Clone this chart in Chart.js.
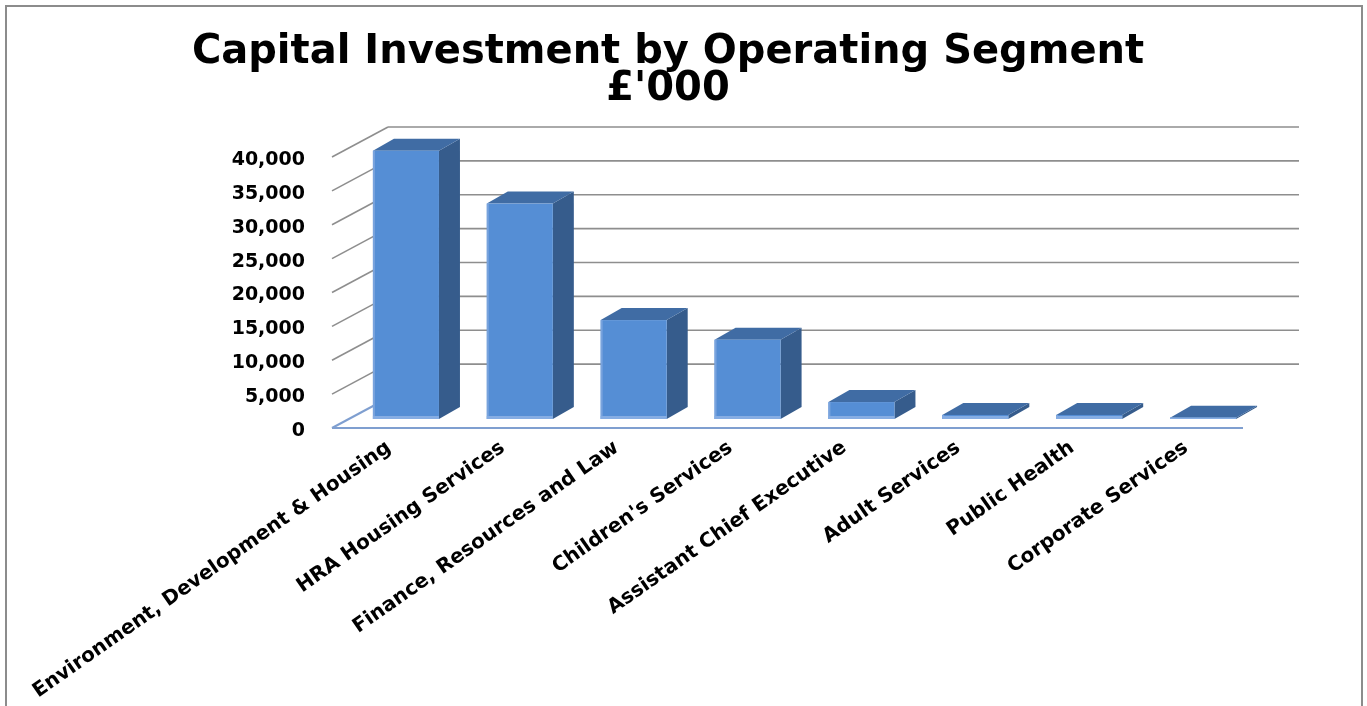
<!DOCTYPE html>
<html>
<head>
<meta charset="utf-8">
<script src="https://cdn.jsdelivr.net/npm/chart.js@4.4.1/dist/chart.umd.min.js"></script>
<style>
  html, body { margin: 0; padding: 0; background: #ffffff; }
  #wrap { width: 1367px; height: 706px; position: relative; overflow: hidden; }
</style>
</head>
<body>
<div id="wrap"><canvas id="c" width="1367" height="706"></canvas></div>
<script>
// ---- data ----
const categories = [
  'Environment, Development & Housing',
  'HRA Housing Services',
  'Finance, Resources and Law',
  "Children's Services",
  'Assistant Chief Executive',
  'Adult Services',
  'Public Health',
  'Corporate Services'
];
const capitalInvestment = [39600, 31800, 14600, 11700, 2500, 600, 600, 200];
const titleLines = ['Capital Investment by Operating Segment', "£'000"];
const yMin = 0;
const yMax = 40000;
const yStep = 5000;

// ---- 3D geometry (pixel offsets) ----
const WALL_DX = 56, WALL_DY = -30;   // depth of side wall / floor
const BAR_DX = 17, BAR_DY = -9;      // bar front face position inside depth
const BOX_DX = 21, BOX_DY = -12;     // bar depth

const FONT = "'DejaVu Sans', 'Liberation Sans', Arial, sans-serif";

const threeD = {
  id: 'threeD',
  beforeDraw(chart) {
    const ctx = chart.ctx;
    ctx.save();
    ctx.fillStyle = '#ffffff';
    ctx.fillRect(0, 0, chart.width, chart.height);
    ctx.strokeStyle = '#8c8c8c';
    ctx.lineWidth = 2;
    ctx.strokeRect(6, 6, 1356, 760);
    ctx.restore();
  },
  beforeDatasetsDraw(chart) {
    const { ctx, chartArea: a, scales: { y } } = chart;
    ctx.save();
    y.ticks.forEach(t => {
      const py = y.getPixelForValue(t.value);
      const isZero = t.value === 0;
      ctx.strokeStyle = isZero ? '#7f9fd0' : '#8e8e8e';
      ctx.lineWidth = isZero ? 2 : 1.6;
      // side wall diagonal
      ctx.beginPath();
      ctx.moveTo(a.left, py);
      ctx.lineTo(a.left + WALL_DX, py + WALL_DY);
      ctx.stroke();
      // back wall gridline
      if (!isZero) {
        ctx.beginPath();
        ctx.moveTo(a.left + WALL_DX, py + WALL_DY);
        ctx.lineTo(a.right + WALL_DX, py + WALL_DY);
        ctx.stroke();
      }
    });
    // floor front edge
    const p0 = y.getPixelForValue(0);
    ctx.strokeStyle = '#7f9fd0';
    ctx.lineWidth = 2;
    ctx.beginPath();
    ctx.moveTo(a.left, p0);
    ctx.lineTo(a.right, p0);
    ctx.stroke();
    ctx.restore();
  },
  afterDatasetsDraw(chart) {
    const ctx = chart.ctx;
    const meta = chart.getDatasetMeta(0);
    ctx.save();
    meta.data.forEach(el => {
      const p = el.getProps(['x', 'y', 'base', 'width'], true);
      const l = p.x + BAR_DX - p.width / 2;
      const r = p.x + BAR_DX + p.width / 2;
      const top = p.y + BAR_DY;
      const bot = p.base + BAR_DY;
      // side face
      ctx.fillStyle = '#365c8c';
      ctx.beginPath();
      ctx.moveTo(r, top);
      ctx.lineTo(r + BOX_DX, top + BOX_DY);
      ctx.lineTo(r + BOX_DX, bot + BOX_DY);
      ctx.lineTo(r, bot);
      ctx.closePath();
      ctx.fill();
      // top face
      ctx.fillStyle = '#406ca4';
      ctx.beginPath();
      ctx.moveTo(l, top);
      ctx.lineTo(l + BOX_DX, top + BOX_DY);
      ctx.lineTo(r + BOX_DX, top + BOX_DY);
      ctx.lineTo(r, top);
      ctx.closePath();
      ctx.fill();
      // front face
      ctx.fillStyle = '#558ed5';
      ctx.fillRect(l, top, r - l, bot - top);
      // light left edge
      ctx.fillStyle = '#79a3dd';
      ctx.fillRect(l, top, 2, bot - top);
      // light bottom strip
      const sh = Math.min(3, bot - top);
      ctx.fillStyle = '#86ade3';
      ctx.fillRect(l, bot - sh, r - l, sh);
    });
    ctx.restore();
  }
};

new Chart(document.getElementById('c'), {
  type: 'bar',
  data: {
    labels: categories,
    datasets: [{
      label: "Capital Investment £'000",
      data: capitalInvestment,
      backgroundColor: 'rgba(0,0,0,0)',
      borderWidth: 0,
      barPercentage: 0.58,
      categoryPercentage: 1.0
    }]
  },
  options: {
    responsive: false,
    animation: false,
    devicePixelRatio: 1,
    layout: { padding: { left: 6, right: 37, top: 6, bottom: 0 } },
    plugins: {
      legend: { display: false },
      tooltip: { enabled: false },
      title: {
        display: true,
        text: titleLines,
        color: '#000000',
        font: { family: FONT, weight: 'bold', size: 40, lineHeight: 0.925 },
        padding: { top: 28, bottom: 49 }
      }
    },
    scales: {
      x: {
        grid: { display: false, drawTicks: false },
        border: { display: false },
        ticks: {
          color: '#000000',
          font: { family: FONT, weight: 'bold', size: 20 },
          minRotation: 35,
          maxRotation: 35,
          autoSkip: false,
          padding: 8
        },
        afterFit(s) { s.height = 278; s.paddingLeft = 0; s.paddingRight = 0; }
      },
      y: {
        min: yMin,
        max: yMax,
        grid: { display: false, drawTicks: false },
        border: { display: false },
        ticks: {
          stepSize: yStep,
          color: '#000000',
          font: { family: FONT, weight: 'bold', size: 19 },
          padding: 27,
          labelOffset: 3,
          callback: v => Number(v).toLocaleString('en-US')
        },
        afterFit(s) { s.width = 326; }
      },
      y2: {
        position: 'right',
        display: true,
        grid: { display: false, drawTicks: false },
        border: { display: false },
        ticks: { display: false },
        afterFit(s) { s.width = 87; }
      }
    }
  },
  plugins: [threeD]
});
</script>
</body>
</html>
